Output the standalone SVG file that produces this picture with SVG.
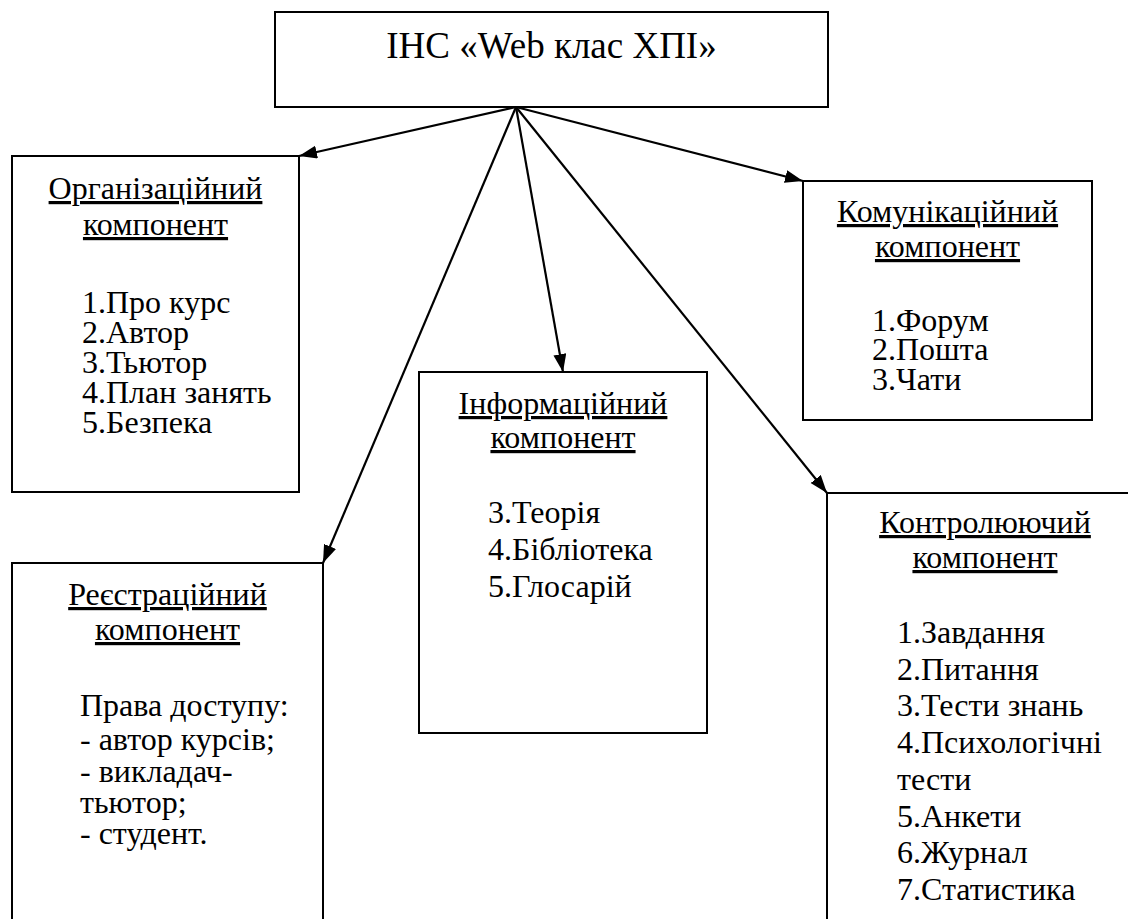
<svg xmlns="http://www.w3.org/2000/svg" width="1128" height="919" viewBox="0 0 1128 919">
<defs>
<marker id="arr" markerUnits="userSpaceOnUse" markerWidth="20" markerHeight="14" refX="18" refY="6.5" orient="auto">
<path d="M0,0 L18,6.5 L0,13 z" fill="#000"/>
</marker>
<style>
.box{fill:#fff;stroke:#000;stroke-width:2}
.t{font-family:'Liberation Serif','Times New Roman',serif;font-size:32px;fill:#000}
.h{text-anchor:middle;text-decoration:underline}
.title{font-family:'Liberation Serif','Times New Roman',serif;font-size:37px;fill:#000;text-anchor:middle}
.c{stroke:#000;stroke-width:2.2;fill:none;marker-end:url(#arr)}
</style>
</defs>
<rect width="1128" height="919" fill="#fff"/>
<g id="root">
<rect class="box" x="275" y="12" width="553" height="95"/>
<text class="title" x="551.5" y="58">ІНС «Web клас ХПІ»</text>
</g>
<g id="org">
<rect class="box" x="12" y="156" width="287" height="336"/>
<text class="t h" x="155.5" y="199">Організаційний</text>
<text class="t h" x="155.5" y="235">компонент</text>
<text class="t" x="82" y="313">1.Про курс</text>
<text class="t" x="82" y="343">2.Автор</text>
<text class="t" x="82" y="373">3.Тьютор</text>
<text class="t" x="82" y="403">4.План занять</text>
<text class="t" x="82" y="433">5.Безпека</text>
</g>
<g id="comm">
<rect class="box" x="803" y="181" width="289" height="239"/>
<text class="t h" x="947.5" y="222">Комунікаційний</text>
<text class="t h" x="947.5" y="257">компонент</text>
<text class="t" x="872" y="331">1.Форум</text>
<text class="t" x="872" y="360">2.Пошта</text>
<text class="t" x="872" y="390">3.Чати</text>
</g>
<g id="info">
<rect class="box" x="419" y="372" width="288" height="361"/>
<text class="t h" x="563" y="414">Інформаційний</text>
<text class="t h" x="563" y="448">компонент</text>
<text class="t" x="488" y="523">3.Теорія</text>
<text class="t" x="488" y="560">4.Бібліотека</text>
<text class="t" x="488" y="597">5.Глосарій</text>
</g>
<g id="reg">
<rect class="box" x="12" y="563" width="311" height="380"/>
<text class="t h" x="167.5" y="605">Реєстраційний</text>
<text class="t h" x="167.5" y="640">компонент</text>
<text class="t" x="80" y="716">Права доступу:</text>
<text class="t" x="80" y="750">- автор курсів;</text>
<text class="t" x="80" y="782">- викладач-</text>
<text class="t" x="80" y="813">тьютор;</text>
<text class="t" x="80" y="844">- студент.</text>
</g>
<g id="control">
<rect class="box" x="827" y="493" width="320" height="450"/>
<text class="t h" x="985" y="533">Контролюючий</text>
<text class="t h" x="985" y="568">компонент</text>
<text class="t" x="897" y="643">1.Завдання</text>
<text class="t" x="897" y="680">2.Питання</text>
<text class="t" x="897" y="716">3.Тести знань</text>
<text class="t" x="897" y="753">4.Психологічні</text>
<text class="t" x="897" y="790">тести</text>
<text class="t" x="897" y="827">5.Анкети</text>
<text class="t" x="897" y="863">6.Журнал</text>
<text class="t" x="897" y="900">7.Статистика</text>
</g>
<g id="connectors">
<line class="c" x1="516" y1="107" x2="299" y2="156"/>
<line class="c" x1="516" y1="107" x2="323" y2="563"/>
<line class="c" x1="516" y1="107" x2="563" y2="372"/>
<line class="c" x1="516" y1="107" x2="803" y2="181"/>
<line class="c" x1="516" y1="107" x2="827" y2="493"/>
</g>
</svg>
